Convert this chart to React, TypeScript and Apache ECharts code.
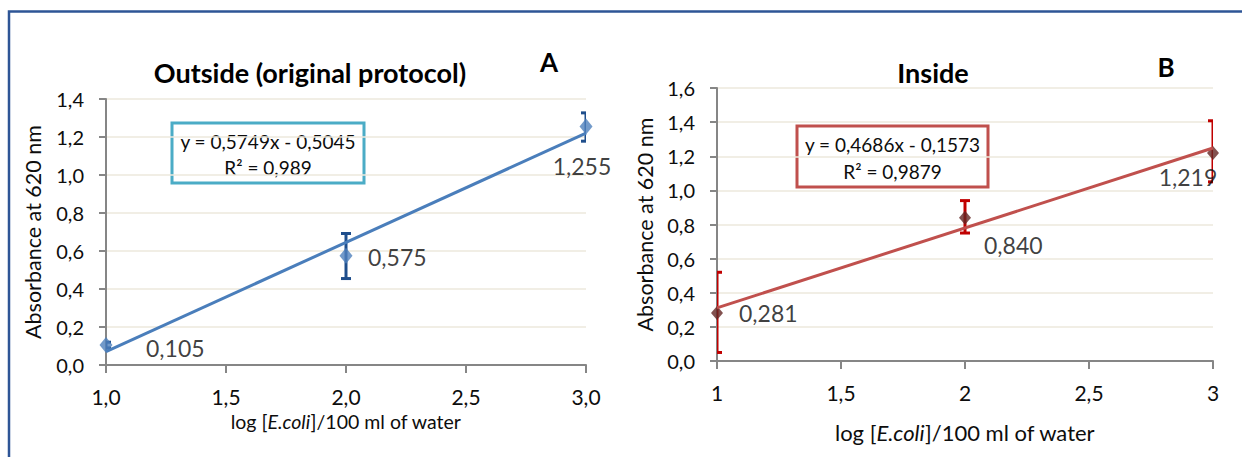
import React, { useEffect, useRef } from "react";
import * as echarts from "echarts";

// ---- Data ----
const xValues = [1, 2, 3];
const outsideValues = [0.105, 0.575, 1.255];
const outsideErrLow = [0.09, 0.455, 1.178];
const outsideErrHigh = [0.12, 0.692, 1.327];
const insideValues = [0.281, 0.84, 1.219];
const insideErrLow = [0.05, 0.75, 1.05];
const insideErrHigh = [0.52, 0.94, 1.408];
const outsideSlope = 0.5749;
const outsideIntercept = -0.5045;
const outsideR2 = "0,989";
const insideSlope = 0.4686;
const insideIntercept = -0.1573;
const insideR2 = "0,9879";
const yTicksA = { min: 0, max: 1.4, interval: 0.2 };
const yTicksB = { min: 0, max: 1.6, interval: 0.2 };
const xTicks = { min: 1, max: 3, interval: 0.5 };

// label placement (layout, not data)
const labelPlaceA = [
  { align: "left", offset: [40, 3] },
  { align: "left", offset: [22, 1] },
  { align: "center", offset: [-4, 39] },
];
const labelPlaceB = [
  { align: "left", offset: [22, 0] },
  { align: "left", offset: [19, 27] },
  { align: "center", offset: [-25, 24] },
];

const FONT = "Lato";
const TXT = "#0d0d0d";
const comma = (v: number, d: number) => v.toFixed(d).replace(".", ",");
const fmtEq = (s: number, b: number) =>
  `y = ${comma(s, 4)}x ${b < 0 ? "-" : "+"} ${comma(Math.abs(b), 4)}`;

function errorBarSeries(xIndex: number, lows: number[], highs: number[], color: string, cap: number) {
  return {
    type: "custom",
    xAxisIndex: xIndex,
    yAxisIndex: xIndex,
    clip: true,
    z: 2,
    data: xValues.map((x, i) => [x, lows[i], highs[i]]),
    renderItem: (params: any, api: any) => {
      const x = api.value(0);
      const p1 = api.coord([x, api.value(1)]);
      const p2 = api.coord([x, api.value(2)]);
      const st = { stroke: color, lineWidth: 3 };
      return {
        type: "group",
        children: [
          { type: "line", shape: { x1: p1[0], y1: p1[1], x2: p2[0], y2: p2[1] }, style: st },
          { type: "line", shape: { x1: p1[0] - cap, y1: p1[1], x2: p1[0] + cap, y2: p1[1] }, style: st },
          { type: "line", shape: { x1: p2[0] - cap, y1: p2[1], x2: p2[0] + cap, y2: p2[1] }, style: st },
        ],
      };
    },
  };
}

function scatterSeries(idx: number, values: number[], place: any[], color: string, size: number[]) {
  return {
    type: "scatter",
    xAxisIndex: idx,
    yAxisIndex: idx,
    symbol: "diamond",
    symbolSize: size,
    z: 3,
    itemStyle: { color },
    data: xValues.map((x, i) => ({
      value: [x, values[i]],
      label: {
        show: true,
        position: "inside",
        align: place[i].align,
        verticalAlign: "middle",
        offset: place[i].offset,
      },
    })),
    label: {
      show: true,
      fontFamily: FONT,
      fontSize: 23,
      color: TXT,
      formatter: (p: any) => comma(p.value[1], 3),
    },
  };
}

function trendSeries(idx: number, slope: number, intercept: number, color: string) {
  const x0 = xValues[0];
  const x1 = xValues[xValues.length - 1];
  return {
    type: "line",
    xAxisIndex: idx,
    yAxisIndex: idx,
    symbol: "none",
    z: 4,
    lineStyle: { color, width: 3 },
    data: [
      [x0, slope * x0 + intercept],
      [x1, slope * x1 + intercept],
    ],
  };
}

const axisLineStyle = { color: "#868686", width: 2 };

function xAxis(idx: number, fmt: (v: number) => string, nameSize: number, nameGap: number) {
  return {
    type: "value",
    gridIndex: idx,
    min: xTicks.min,
    max: xTicks.max,
    interval: xTicks.interval,
    name: "log [{i|E.coli}]/100 ml of water",
    nameLocation: "middle",
    nameGap,
    nameTextStyle: {
      fontFamily: FONT,
      fontSize: nameSize,
      color: TXT,
      rich: { i: { fontStyle: "italic", fontFamily: FONT, fontSize: nameSize, color: TXT } },
    },
    axisLine: { show: true, onZero: false, lineStyle: axisLineStyle },
    axisTick: { show: true, length: 8, lineStyle: axisLineStyle },
    splitLine: { show: false },
    axisLabel: {
      fontFamily: FONT,
      fontSize: 21,
      color: TXT,
      margin: 21,
      formatter: fmt,
    },
  };
}

function yAxis(idx: number, t: any, nameGap: number) {
  return {
    type: "value",
    gridIndex: idx,
    min: t.min,
    max: t.max,
    interval: t.interval,
    name: "Absorbance at 620 nm",
    nameLocation: "middle",
    nameGap,
    nameTextStyle: { fontFamily: FONT, fontSize: 21.5, color: TXT },
    axisLine: { show: true, lineStyle: axisLineStyle },
    axisTick: { show: true, length: 7, lineStyle: axisLineStyle },
    splitLine: { show: true, lineStyle: { color: "#ECE9DD", width: 1.5 } },
    axisLabel: {
      fontFamily: FONT,
      fontSize: 20,
      color: TXT,
      margin: 22,
      formatter: (v: number) => comma(v, 1),
    },
  };
}

function eqBox(x: number, y: number, w: number, h: number, stroke: string, l1: string, l2: string) {
  return {
    type: "group",
    x,
    y,
    children: [
      { type: "rect", shape: { x: 0, y: 0, width: w, height: h }, style: { fill: "#fff", stroke, lineWidth: 3 } },
      {
        type: "text",
        x: w / 2,
        y: h * 0.31,
        style: { text: l1, font: `19px ${FONT}`, fill: TXT, align: "center", verticalAlign: "middle" },
      },
      {
        type: "text",
        x: w / 2,
        y: h * 0.74,
        style: { text: l2, font: `19px ${FONT}`, fill: TXT, align: "center", verticalAlign: "middle" },
      },
    ],
  };
}

function bigText(x: number, y: number, text: string, size: number) {
  return {
    type: "text",
    x,
    y,
    style: { text, font: `bold ${size}px ${FONT}`, fill: "#000", align: "center", verticalAlign: "middle" },
  };
}

export default function App() {
  const ref = useRef<HTMLDivElement>(null);
  useEffect(() => {
    if (!ref.current) return;
    const chart = echarts.init(ref.current, undefined, { renderer: "svg" });
    chart.setOption({
      animation: false,
      backgroundColor: "#ffffff",
      grid: [
        { left: 106, right: 656, top: 99, bottom: 92 },
        { left: 717, right: 29, top: 88, bottom: 96 },
      ],
      xAxis: [
        xAxis(0, (v: number) => comma(v, 1), 19.5, 44),
        xAxis(1, (v: number) => (Number.isInteger(v) ? String(v) : comma(v, 1)), 22, 60),
      ],
      yAxis: [yAxis(0, yTicksA, 62), yAxis(1, yTicksB, 61)],
      series: [
        errorBarSeries(0, outsideErrLow, outsideErrHigh, "#1F4E8C", 5),
        scatterSeries(0, outsideValues, labelPlaceA, "#4F81BD", [13, 16]),
        trendSeries(0, outsideSlope, outsideIntercept, "#4A7EBB"),
        errorBarSeries(1, insideErrLow, insideErrHigh, "#C00000", 5),
        scatterSeries(1, insideValues, labelPlaceB, "#632523", [12, 14]),
        trendSeries(1, insideSlope, insideIntercept, "#C0504D"),
      ],
      graphic: [
        {
          type: "polyline",
          shape: { points: [[9, 457], [9, 11.5], [1242, 11.5]] },
          style: { stroke: "#2E5596", lineWidth: 2.5, fill: "none" },
        },
        bigText(310, 72, "Outside (original protocol)", 27),
        bigText(549, 62, "A", 26),
        bigText(933, 72, "Inside", 27),
        bigText(1166, 67, "B", 26),
        eqBox(172, 123, 192, 60, "#4BACC6", fmtEq(outsideSlope, outsideIntercept), `R² = ${outsideR2}`),
        eqBox(797, 126, 191, 61, "#C0504D", fmtEq(insideSlope, insideIntercept), `R² = ${insideR2}`),
      ],
    });
    return () => chart.dispose();
  }, []);
  return (
    <div
      ref={ref}
      style={{ position: "absolute", left: 0, top: 0, width: 1242, height: 457 }}
    />
  );
}
